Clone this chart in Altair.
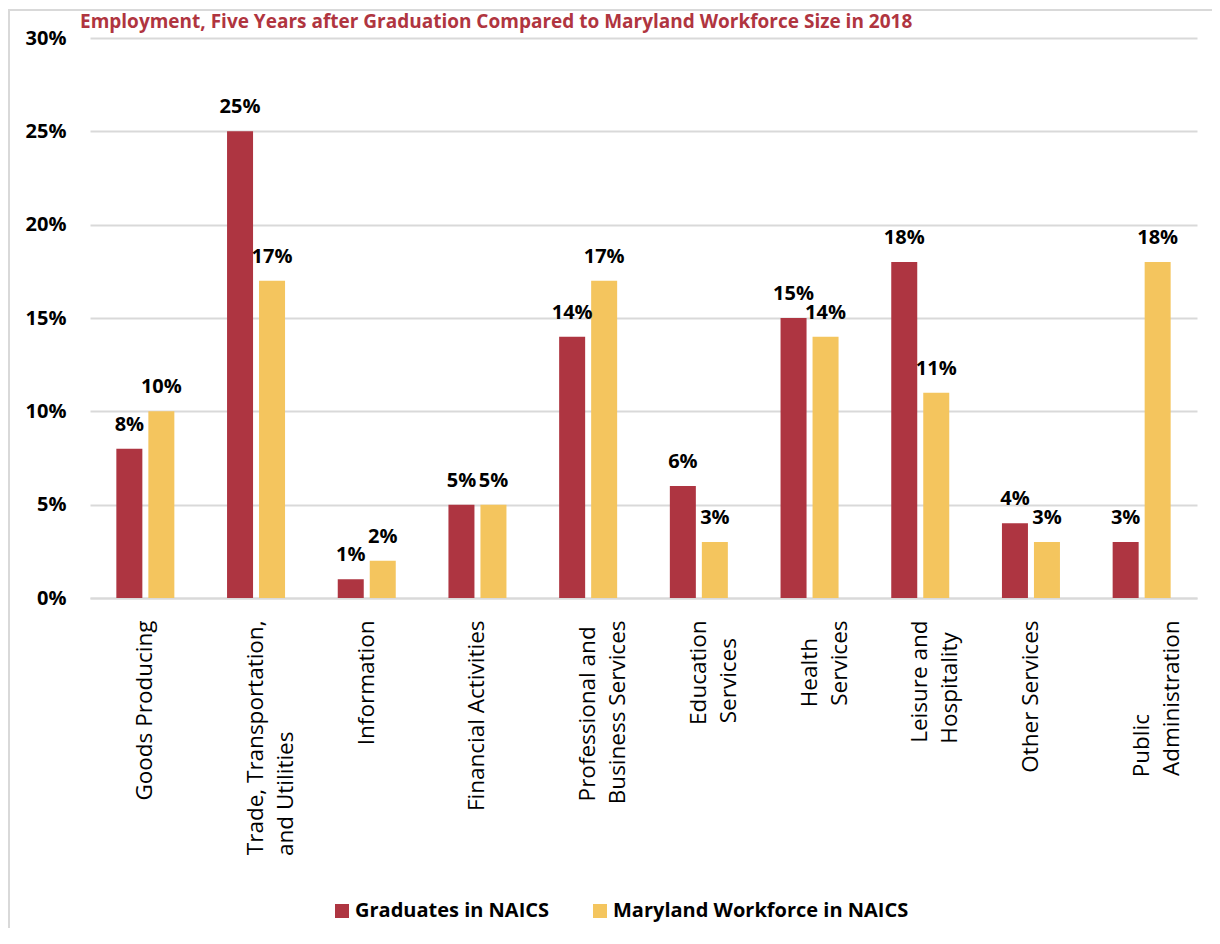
import json
import altair as alt
import pandas as pd

categories = [
    "Goods Producing",
    "Trade, Transportation,|and Utilities",
    "Information",
    "Financial Activities",
    "Professional and|Business Services",
    "Education|Services",
    "Health|Services",
    "Leisure and|Hospitality",
    "Other Services",
    "Public|Administration",
]
graduates = [8, 25, 1, 5, 14, 6, 15, 18, 4, 3]
workforce = [10, 17, 2, 5, 17, 3, 14, 11, 3, 18]
series_names = ["Graduates in NAICS", "Maryland Workforce in NAICS"]
series_colors = ["#AE3541", "#F4C55E"]
y_ticks = [0, 5, 10, 15, 20, 25, 30]
title_text = "Employment, Five Years after Graduation Compared to Maryland Workforce Size in 2018"

rows = []
for c, g, w in zip(categories, graduates, workforce):
    rows.append({"category": c, "series": series_names[0], "value": g})
    rows.append({"category": c, "series": series_names[1], "value": w})
df = pd.DataFrame(rows)

# Approximate Open Sans advance widths (units per em = 2048), used only to
# left-align the wrapped lines of a rotated label inside its block, as the
# original does, by padding the shorter line with no-break spaces (closed
# by a zero-width space so that they are not trimmed away).
_W = {" ": 532, ",": 502, "A": 1296, "B": 1327, "E": 1124, "H": 1511,
      "L": 1126, "P": 1239, "S": 1096, "T": 1114, "U": 1479, "a": 1139,
      "b": 1255, "c": 975, "d": 1255, "e": 1149, "f": 694, "i": 518,
      "l": 518, "m": 1905, "n": 1257, "o": 1237, "p": 1255, "r": 836,
      "s": 977, "t": 723, "u": 1257, "v": 1024, "y": 1026}


def _width(s):
    return sum(_W.get(ch, 1150) for ch in s)


label_map = {}
for c in categories:
    lines = c.split("|")
    longest = max(_width(l) for l in lines)
    padded = []
    for l in lines:
        n = int(round((longest - _width(l)) / 532))
        padded.append(l + ("\u00a0" * n + "\u200b" if n > 0 else ""))
    label_map[c] = padded if len(padded) > 1 else padded[0]

FONT = "Open Sans"
GRID = "#D9D9D9"

x_enc = alt.X(
    "category:N",
    sort=categories,
    scale=alt.Scale(paddingInner=0.476, paddingOuter=0.238),
    axis=alt.Axis(
        title=None,
        labelExpr=json.dumps(label_map, ensure_ascii=False) + "[datum.label]",
        labelAngle=-90,
        labelAlign="right",
        labelBaseline="middle",
        labelPadding=22,
        labelFont=FONT,
        labelFontSize=22.5,
        labelLineHeight=30,
        labelColor="#000000",
        labelLimit=400,
        ticks=False,
        domain=True,
        domainColor=GRID,
        domainWidth=2,
        grid=False,
    ),
)
xoff_enc = alt.XOffset(
    "series:N",
    sort=series_names,
    scale=alt.Scale(paddingInner=0.1875, paddingOuter=0),
)
y_enc = alt.Y(
    "value:Q",
    scale=alt.Scale(domain=[0, 30], nice=False),
    axis=alt.Axis(
        title=None,
        values=y_ticks,
        labelExpr="datum.value + '%'",
        labelFont=FONT,
        labelFontSize=20,
        labelFontWeight="bold",
        labelColor="#000000",
        labelPadding=24,
        ticks=False,
        domain=False,
        grid=True,
        gridColor=GRID,
        gridWidth=2,
    ),
)

bars = alt.Chart(df).mark_bar().encode(
    x=x_enc,
    xOffset=xoff_enc,
    y=y_enc,
    color=alt.Color(
        "series:N",
        scale=alt.Scale(domain=series_names, range=series_colors),
        legend=alt.Legend(
            title=None,
            orient="none",
            legendX=242,
            legendY=863,
            direction="horizontal",
            symbolType="square",
            symbolSize=196,
            symbolStrokeWidth=0,
            labelFont=FONT,
            labelFontSize=20,
            labelFontWeight="bold",
            labelColor="#000000",
            labelOffset=3,
            columnPadding=40,
            padding=0,
            labelLimit=400,
        ),
    ),
)

labels = alt.Chart(df).transform_calculate(
    label="datum.value + '%'"
).mark_text(
    font=FONT, fontSize=20, fontWeight="bold", color="#000000",
    baseline="alphabetic", dy=-18,
).encode(
    x=alt.X("category:N", sort=categories),
    xOffset=alt.XOffset("series:N", sort=series_names),
    y=alt.Y("value:Q"),
    text="label:N",
)

title = alt.Chart(alt.Data(values=[{"t": title_text}])).mark_text(
    font=FONT, fontSize=19, fontWeight="bold", color="#B0353F",
    align="left", baseline="alphabetic",
).encode(
    x=alt.value(-10), y=alt.value(-10), text="t:N",
)

frame_left = alt.Chart(alt.Data(values=[{"a": 1}])).mark_rule(
    color=GRID, strokeWidth=2,
).encode(
    x=alt.value(-81), y=alt.value(-28), y2=alt.value(920),
)
frame_top = alt.Chart(alt.Data(values=[{"a": 1}])).mark_rule(
    color=GRID, strokeWidth=2,
).encode(
    x=alt.value(-82), x2=alt.value(1130), y=alt.value(-28),
)

chart = alt.layer(frame_left, frame_top, bars, labels, title).properties(
    width=1107,
    height=560,
    padding={"left": 82, "top": 30, "right": 15, "bottom": 330},
    autosize=alt.AutoSizeParams(type="none"),
).configure_view(stroke=None)

chart.save("out.html", embed_options={"renderer": "svg", "actions": False})
